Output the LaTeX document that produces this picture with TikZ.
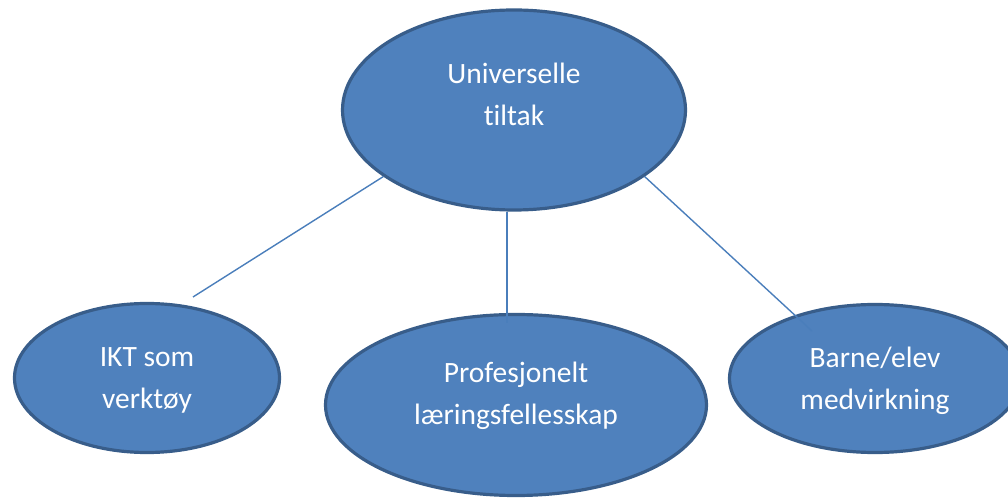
\documentclass[tikz,border=0pt]{standalone}
\usepackage{fontspec}
\setmainfont{Carlito}[Ligatures=NoCommon]
\usetikzlibrary{shapes.geometric}
\definecolor{bubblefill}{HTML}{4F81BD}
\definecolor{bubbleline}{HTML}{385D8A}
\definecolor{linkline}{HTML}{4A7EBB}
\tikzset{
  bubble/.style={ellipse,draw=bubbleline,fill=bubblefill,line width=3.2bp,inner sep=0pt},
  bubbletext/.style={text=white,align=center,inner sep=0pt,font=\fontsize{29.6}{42}\selectfont},
  link/.style={draw=linkline,line width=1.4bp}
}
\begin{document}
\begin{tikzpicture}[line join=bevel,]
%%
\useasboundingbox (0bp,0bp) rectangle (1008bp,498bp);
\node (node_top) at (514bp,388bp) [bubble,minimum width=343bp,minimum height=200bp] {};
  \node (node_ikt) at (147bp,120bp) [bubble,minimum width=265bp,minimum height=149bp] {};
  \node (node_prof) at (516bp,93bp) [bubble,minimum width=381bp,minimum height=181bp] {};
  \node (node_barn) at (875bp,119.5bp) [bubble,minimum width=291bp,minimum height=148bp] {};
%
\node (text_top) at (514bp,404bp) [bubbletext] {Universelle\\tiltak};
  \node (text_ikt) at (147bp,118bp) [bubbletext] {IKT som\\verktøy};
  \node (text_prof) at (516bp,102bp) [bubbletext] {Profesjonelt\\læringsfellesskap};
  \node (text_barn) at (875bp,117bp) [bubbletext] {Barne/elev\\medvirkning};
%
\coordinate (end_ikt) at (193bp,201bp);
  \coordinate (end_prof) at (507bp,175bp);
  \coordinate (end_barn) at (812bp,167bp);
  \draw [link] (node_top.207) -- (end_ikt);
  \draw [link] ([xshift=-7bp]node_top.south) -- (end_prof);
  \draw [link] (node_top.333) -- (end_barn);
%
\end{tikzpicture}
\end{document}
